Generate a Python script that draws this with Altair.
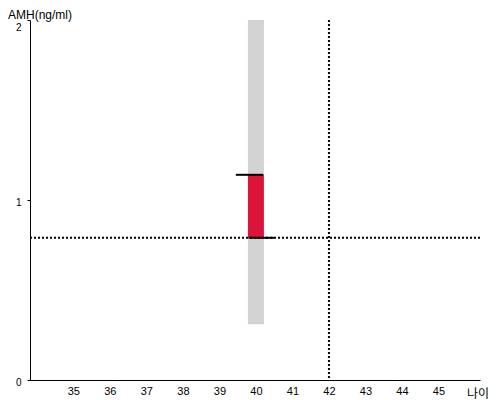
import altair as alt
import pandas as pd

# data
ages = [40]
range_low = [0.31]
range_high = [2.0]
value_low = [0.79]
value_high = [1.14]
ref_age = [42]
ref_amh = [0.79]
top_tick = {"x": [39.45], "x2": [40.2], "y": [1.14]}
bottom_tick = {"x": [39.8], "x2": [40.5], "y": [0.79]}
x_ticks = [35, 36, 37, 38, 39, 40, 41, 42, 43, 44, 45]
y_ticks = [0, 1, 2]

bars = pd.DataFrame({"age": ages, "lo": range_low, "hi": range_high,
                     "vlo": value_low, "vhi": value_high})

xs = alt.Scale(domain=[33.95, 46.0], nice=False, zero=False)
ys = alt.Scale(domain=[0, 2], nice=False)

xaxis = alt.Axis(values=x_ticks, grid=False, ticks=False, title=None,
                 domainColor="black", labelColor="black", labelFontSize=11,
                 labelFont="Liberation Sans", labelPadding=5,
                 labelFlush=False, labelOverlap=False,
                 labelExpr="format(datum.value, 'd')")
yaxis = alt.Axis(values=y_ticks, grid=False, tickSize=3, title=None,
                 domainColor="black", tickColor="black", labelColor="black",
                 labelFontSize=10, labelFont="Liberation Sans", labelPadding=6,
                 labelFlush=False, labelOverlap=False, labelOffset=2,
                 labelBaseline={"condition": {"test": "datum.value == 2", "value": "top"},
                                "value": "middle"},
                 labelExpr="format(datum.value, 'd')")

base = alt.Chart(bars)

gray = base.mark_bar(size=16, color="#d3d3d3").encode(
    x=alt.X("age:Q", scale=xs, axis=xaxis),
    y=alt.Y("lo:Q", scale=ys, axis=yaxis),
    y2="hi:Q",
)
red = base.mark_bar(size=16, color="#dc143c").encode(
    x=alt.X("age:Q", scale=xs),
    y=alt.Y("vlo:Q", scale=ys),
    y2="vhi:Q",
)

hline = alt.Chart(pd.DataFrame({"y": ref_amh})).mark_rule(
    color="black", strokeWidth=2, strokeDash=[2, 2]).encode(
    y=alt.Y("y:Q", scale=ys))
vline = alt.Chart(pd.DataFrame({"x": ref_age})).mark_rule(
    color="black", strokeWidth=2, strokeDash=[2, 2]).encode(
    x=alt.X("x:Q", scale=xs))

t1 = alt.Chart(pd.DataFrame(top_tick)).mark_rule(color="black", strokeWidth=2).encode(
    x=alt.X("x:Q", scale=xs), x2="x2:Q", y=alt.Y("y:Q", scale=ys))
t2 = alt.Chart(pd.DataFrame(bottom_tick)).mark_rule(color="black", strokeWidth=2).encode(
    x=alt.X("x:Q", scale=xs), x2="x2:Q", y=alt.Y("y:Q", scale=ys))

ytitle = alt.Chart(pd.DataFrame({"t": ["AMH(ng/ml)"]})).mark_text(
    align="left", baseline="alphabetic", fontSize=12, font="Liberation Sans",
    color="black").encode(x=alt.value(-22), y=alt.value(-1), text="t:N")
xtitle = alt.Chart(pd.DataFrame({"t": ["나이"]})).mark_text(
    align="left", baseline="alphabetic", fontSize=12, font="Noto Sans CJK KR",
    color="black").encode(x=alt.value(437), y=alt.value(378), text="t:N")

chart = alt.layer(gray, red, hline, vline, t1, t2, ytitle, xtitle).properties(
    width=450, height=360,
    autosize=alt.AutoSizeParams(type="none"),
    padding={"left": 22, "top": 12, "right": 12, "bottom": 28},
).configure_view(stroke=None)

chart.save("out.html", embed_options={"renderer": "svg", "actions": False})
